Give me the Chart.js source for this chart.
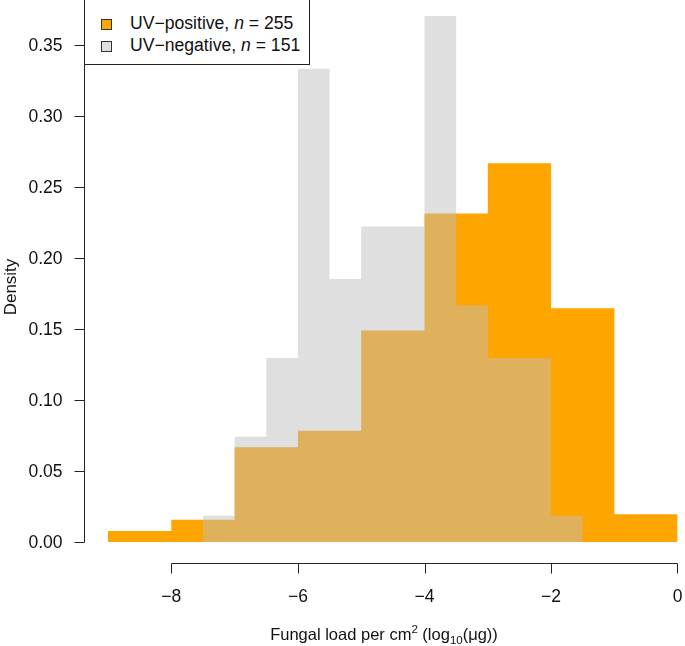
<!DOCTYPE html>
<html>
<head>
<meta charset="utf-8">
<script src="https://cdn.jsdelivr.net/npm/chart.js@4.4.1/dist/chart.umd.min.js"></script>
<style>
  html, body { margin: 0; padding: 0; background: #fff; }
  #wrap { position: relative; width: 685px; height: 646px; }
  #legend {
    position: absolute; left: 84px; top: -1px; width: 226px; height: 66px;
    box-sizing: border-box; border: 1px solid #222; background: #fff;
    font-family: "Liberation Sans", Arial, sans-serif; font-size: 17.6px; color: #111;
  }
  .item { position: absolute; left: 16px; height: 20px; line-height: 20px; white-space: nowrap; }
  .sw { display: inline-block; width: 11px; height: 11px; box-sizing: border-box; border: 1px solid #333;
        vertical-align: -1px; margin-right: 18px; }
</style>
</head>
<body>
<div id="wrap">
  <canvas id="chart" width="685" height="646"></canvas>
  <div id="legend">
    <div class="item" style="top: 13px;"><span class="sw" style="background: #FFA500;"></span>UV−positive, <i>n</i> = 255</div>
    <div class="item" style="top: 35px;"><span class="sw" style="background: #dedede;"></span>UV−negative, <i>n</i> = 151</div>
  </div>
</div>
<script>
// UV-positive histogram: bins of width 1 (start of each bin)
const posBinStarts = [-9, -8, -7, -6, -5, -4, -3, -2, -1];
const posDensity = [0.0078, 0.0157, 0.0667, 0.0784, 0.149, 0.2314, 0.2667, 0.1647, 0.0196];
const posBinWidth = 1;

// UV-negative histogram: bins of width 0.5
const negBinStarts = [-7.5, -7, -6.5, -6, -5.5, -5, -4.5, -4, -3.5, -3, -2.5, -2];
const negDensity = [0.0185, 0.0741, 0.1296, 0.3333, 0.1852, 0.2222, 0.2222, 0.3704, 0.1667, 0.1296, 0.1296, 0.0185];
const negBinWidth = 0.5;

const yTicks = [0, 0.05, 0.10, 0.15, 0.20, 0.25, 0.30, 0.35];
const xTicks = [-8, -6, -4, -2, 0];

const FONT = '"Liberation Sans", Arial, sans-serif';
const TICK_FONT = '17.5px ' + FONT;

// histogram outline as a stepped line: one point per bin start, plus the closing edge
function histPoints(starts, dens, width) {
    const pts = starts.map((s, i) => ({ x: s, y: dens[i] }));
    pts.push({ x: starts[starts.length - 1] + width, y: dens[dens.length - 1] });
    return pts;
}

const minus = v => (v < 0 ? '\u2212' + Math.abs(v) : String(v));

// R-style detached axes, tick labels and titles
const rAxes = {
    id: 'rAxes',
    afterDraw(chart) {
        const { ctx, chartArea, scales: { x, y } } = chart;
        ctx.save();
        ctx.strokeStyle = '#222';
        ctx.lineWidth = 1;

        const ax = Math.round(chartArea.left - 24) + 0.5;
        const yTop = Math.round(y.getPixelForValue(yTicks[yTicks.length - 1])) + 0.5;
        const yBot = Math.round(y.getPixelForValue(yTicks[0])) + 0.5;
        ctx.beginPath();
        ctx.moveTo(ax, yTop); ctx.lineTo(ax, yBot);
        yTicks.forEach(t => {
            const py = Math.round(y.getPixelForValue(t)) + 0.5;
            ctx.moveTo(ax - 10, py); ctx.lineTo(ax, py);
        });

        const ay = Math.round(chartArea.bottom + 21) + 0.5;
        const xL = Math.round(x.getPixelForValue(xTicks[0])) + 0.5;
        const xR = Math.round(x.getPixelForValue(xTicks[xTicks.length - 1])) - 0.5;
        ctx.moveTo(xL, ay); ctx.lineTo(xR, ay);
        xTicks.forEach((t, i) => {
            const px = Math.round(x.getPixelForValue(t)) + (i === xTicks.length - 1 ? -0.5 : 0.5);
            ctx.moveTo(px, ay); ctx.lineTo(px, ay + 10);
        });
        ctx.stroke();

        ctx.fillStyle = '#111';
        ctx.font = TICK_FONT;
        ctx.textBaseline = 'middle';
        ctx.textAlign = 'right';
        yTicks.forEach(t => ctx.fillText(t.toFixed(2), ax - 22, y.getPixelForValue(t) + 1));
        ctx.textAlign = 'center';
        xTicks.forEach(t => ctx.fillText(minus(t), x.getPixelForValue(t), ay + 34));

        // y title
        ctx.save();
        ctx.translate(11, 287);
        ctx.rotate(-Math.PI / 2);
        ctx.font = '17px ' + FONT;
        ctx.textAlign = 'center';
        ctx.textBaseline = 'middle';
        ctx.fillText('Density', 0, 0);
        ctx.restore();

        // x title with superscript and subscript
        const parts = [
            { t: 'Fungal load per cm', s: 16.5, dy: 0 },
            { t: '2', s: 11.5, dy: -7 },
            { t: ' (log', s: 16.5, dy: 0 },
            { t: '10', s: 11.5, dy: 4 },
            { t: '(\u03bcg))', s: 16.5, dy: 0 }
        ];
        ctx.textBaseline = 'alphabetic';
        ctx.textAlign = 'left';
        let total = 0;
        parts.forEach(p => { ctx.font = p.s + 'px ' + FONT; p.w = ctx.measureText(p.t).width; total += p.w; });
        let cx = 384 - total / 2;
        const base = 639.5;
        parts.forEach(p => {
            ctx.font = p.s + 'px ' + FONT;
            ctx.fillText(p.t, cx, base + p.dy);
            cx += p.w;
        });
        ctx.restore();
    }
};

new Chart(document.getElementById('chart'), {
    type: 'line',
    data: {
        datasets: [
            {
                label: 'UV-positive, n = 255',
                data: histPoints(posBinStarts, posDensity, posBinWidth),
                backgroundColor: '#FFA500',
                order: 1
            },
            {
                label: 'UV-negative, n = 151',
                data: histPoints(negBinStarts, negDensity, negBinWidth),
                backgroundColor: 'rgba(190, 190, 190, 0.49)',
                order: 0
            }
        ]
    },
    options: {
        responsive: false,
        animation: false,
        devicePixelRatio: 1,
        layout: { autoPadding: false, padding: { left: 0, right: 7.3, top: 9.5, bottom: 0 } },
        datasets: {
            line: {
                stepped: 'before',
                fill: 'origin',
                borderWidth: 0,
                borderColor: 'rgba(0,0,0,0)',
                pointRadius: 0,
                tension: 0
            }
        },
        plugins: {
            legend: { display: false },
            tooltip: { enabled: false }
        },
        scales: {
            x: {
                type: 'linear',
                min: -9,
                max: 0,
                grid: { display: false, drawTicks: false },
                border: { display: false },
                afterBuildTicks: s => { s.ticks = xTicks.map(v => ({ value: v })); },
                afterFit: s => { s.height = 104; },
                ticks: { display: false }
            },
            y: {
                min: 0,
                max: 0.375,
                grid: { display: false, drawTicks: false },
                border: { display: false },
                afterBuildTicks: s => { s.ticks = yTicks.map(v => ({ value: v })); },
                afterFit: s => { s.width = 108; },
                ticks: { display: false }
            }
        }
    },
    plugins: [rAxes]
});
</script>
</body>
</html>
